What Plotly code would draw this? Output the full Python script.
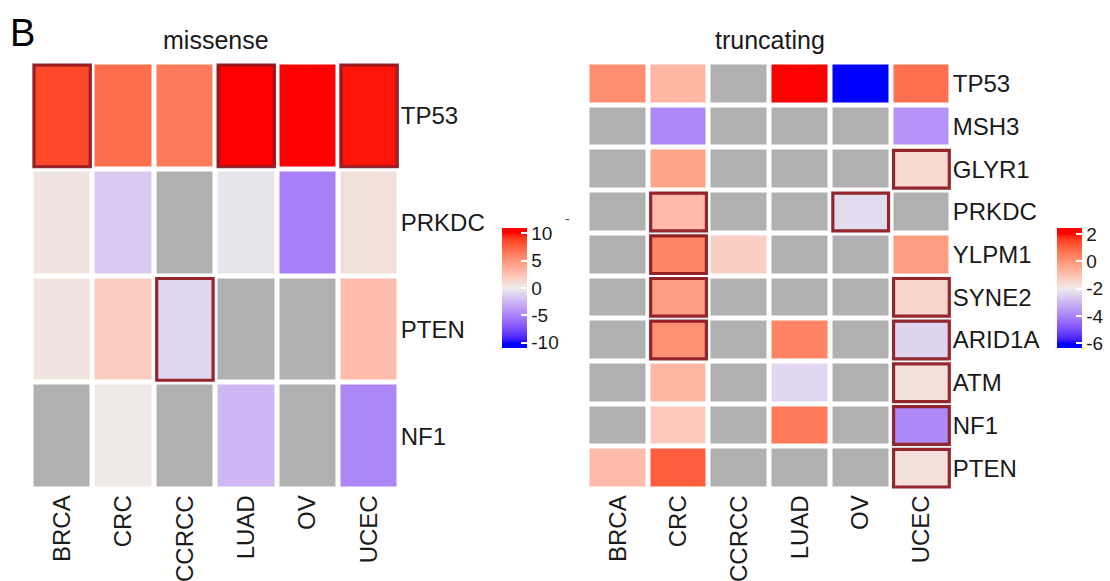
import math
import plotly.graph_objects as go

# ---------------- data ----------------
cancers = ["BRCA", "CRC", "CCRCC", "LUAD", "OV", "UCEC"]

missense_genes = ["TP53", "PRKDC", "PTEN", "NF1"]
missense_values = [
    [8.6, 7.0, 6.4, 10.8, 10.6, 9.8],
    [0.5, -1.6, None, -0.3, -5.2, 0.7],
    [0.5, 1.8, -1.0, None, None, 2.8],
    [None, 0.2, None, -2.5, None, -4.8],
]
missense_sig = [
    [1, 0, 0, 1, 0, 1],
    [0, 0, 0, 0, 0, 0],
    [0, 0, 1, 0, 0, 0],
    [0, 0, 0, 0, 0, 0],
]

trunc_genes = ["TP53", "MSH3", "GLYR1", "PRKDC", "YLPM1", "SYNE2", "ARID1A", "ATM", "NF1", "PTEN"]
trunc_values = [
    [0.15, -0.75, None, 2.3, -6.3, 0.75],
    [None, -3.9, None, None, None, -3.7],
    [None, -0.3, None, None, None, -1.55],
    [None, -0.85, None, None, -2.3, None],
    [None, 0.3, -1.3, None, None, -0.15],
    [None, -0.2, None, None, None, -1.45],
    [None, 0.1, None, 0.35, None, -2.45],
    [None, -0.75, None, -2.4, None, -1.7],
    [None, -1.2, None, 0.6, None, -3.9],
    [-0.85, 1.1, None, None, None, -1.7],
]
trunc_sig = [
    [0, 0, 0, 0, 0, 0],
    [0, 0, 0, 0, 0, 0],
    [0, 0, 0, 0, 0, 1],
    [0, 1, 0, 0, 1, 0],
    [0, 1, 0, 0, 0, 0],
    [0, 1, 0, 0, 0, 1],
    [0, 1, 0, 0, 0, 1],
    [0, 0, 0, 0, 0, 1],
    [0, 0, 0, 0, 0, 1],
    [0, 0, 0, 0, 0, 1],
]

missense_ticks = [10, 5, 0, -5, -10]
trunc_ticks = [2, 0, -2, -4, -6]

# ---------------- colour helpers (LAB interpolation) ----------------
def _lin(c):
    c = c / 255.0
    return c / 12.92 if c <= 0.04045 else ((c + 0.055) / 1.055) ** 2.4

def _delin(c):
    c = 12.92 * c if c <= 0.0031308 else 1.055 * c ** (1 / 2.4) - 0.055
    return max(0, min(255, round(c * 255)))

def rgb2lab(rgb):
    r, g, b = [_lin(c) for c in rgb]
    X = (0.4124 * r + 0.3576 * g + 0.1805 * b) / 0.95047
    Y = (0.2126 * r + 0.7152 * g + 0.0722 * b)
    Z = (0.0193 * r + 0.1192 * g + 0.9505 * b) / 1.08883
    f = lambda t: t ** (1 / 3) if t > 0.008856 else 7.787 * t + 16 / 116
    fx, fy, fz = f(X), f(Y), f(Z)
    return (116 * fy - 16, 500 * (fx - fy), 200 * (fy - fz))

def lab2rgb(lab):
    L, a, b = lab
    fy = (L + 16) / 116
    fx = fy + a / 500
    fz = fy - b / 200
    finv = lambda t: t ** 3 if t ** 3 > 0.008856 else (t - 16 / 116) / 7.787
    X, Y, Z = finv(fx) * 0.95047, finv(fy), finv(fz) * 1.08883
    r = 3.2406 * X - 1.5372 * Y - 0.4986 * Z
    g = -0.9689 * X + 1.8758 * Y + 0.0415 * Z
    bb = 0.0557 * X - 0.2040 * Y + 1.0570 * Z
    return tuple(_delin(max(0, c)) for c in (r, g, bb))

LOW, MID, HIGH = (0, 0, 255), (236, 236, 236), (255, 0, 0)

def color_at(v, breaks):
    cols = [LOW, MID, HIGH]
    if v <= breaks[0]:
        return cols[0]
    if v >= breaks[2]:
        return cols[2]
    i = 0 if v < breaks[1] else 1
    t = (v - breaks[i]) / (breaks[i + 1] - breaks[i])
    l1, l2 = rgb2lab(cols[i]), rgb2lab(cols[i + 1])
    return lab2rgb(tuple(l1[k] + (l2[k] - l1[k]) * t for k in range(3)))

def make_scale(breaks, cmin, cmax, n=81):
    out = []
    for k in range(n):
        v = cmin + (cmax - cmin) * k / (n - 1)
        c = color_at(v, breaks)
        out.append([k / (n - 1), "rgb(%d,%d,%d)" % c])
    return out

# ---------------- figure ----------------
W, H = 1110, 581
FONT = "Liberation Sans, Arial, Helvetica, sans-serif"
NA_GRAY = "rgb(176,176,176)"
BORDER = "rgba(140,22,28,0.92)"

fig = go.Figure()

panels = [
    dict(genes=missense_genes, vals=missense_values, sig=missense_sig, ax="", breaks=(-10, 0, 10),
         cmin=-11, cmax=11, ticks=missense_ticks, cbx=503 / W,
         xdom=[31.5 / W, 400.5 / W]),
    dict(genes=trunc_genes, vals=trunc_values, sig=trunc_sig, ax="2", breaks=(-6, -2, 2),
         cmin=-6.35, cmax=2.45, ticks=trunc_ticks, cbx=1059 / W,
         xdom=[588.5 / W, 953.5 / W]),
]
ydom = [1 - 489.5 / H, 1 - 62.5 / H]

shapes = []
for p in panels:
    xa = "x" + p["ax"]
    ya = "y" + p["ax"]
    na_z = [[1 if v is None else None for v in row] for row in p["vals"]]
    fig.add_trace(go.Heatmap(
        z=na_z, x=cancers, y=p["genes"], xaxis=xa, yaxis=ya,
        colorscale=[[0, NA_GRAY], [1, NA_GRAY]], showscale=False,
        xgap=5, ygap=5, hoverinfo="skip"))
    fig.add_trace(go.Heatmap(
        z=p["vals"], x=cancers, y=p["genes"], xaxis=xa, yaxis=ya,
        colorscale=make_scale(p["breaks"], p["cmin"], p["cmax"]),
        zmin=p["cmin"], zmax=p["cmax"], xgap=5, ygap=5,
        colorbar=dict(
            x=p["cbx"], xanchor="left", xpad=0, ypad=0,
            y=1 - 288 / H, yanchor="middle", len=120, lenmode="pixels",
            thickness=25, outlinewidth=0,
            tickvals=p["ticks"], ticktext=[str(t) for t in p["ticks"]],
            ticks="inside", ticklen=6, tickcolor="white", tickwidth=1.5,
            tickfont=dict(family=FONT, size=19, color="#1a1a1a"),
        )))
    # significance borders
    wpx = (p["xdom"][1] - p["xdom"][0]) * W / len(cancers)
    hpx = (ydom[1] - ydom[0]) * H / len(p["genes"])
    ix = 2.5 / wpx
    iy = 2.5 / hpx
    for r, row in enumerate(p["sig"]):
        for c, s in enumerate(row):
            if s:
                shapes.append(dict(type="rect", xref=xa, yref=ya,
                                   x0=c - 0.5 + ix, x1=c + 0.5 - ix,
                                   y0=r - 0.5 + iy, y1=r + 0.5 - iy,
                                   line=dict(color=BORDER, width=3.2)))

axis_common = dict(showgrid=False, zeroline=False, showline=False, ticks="",
                   tickfont=dict(family=FONT, size=24, color="#1a1a1a"))
fig.update_layout(
    width=W, height=H, margin=dict(l=0, r=0, t=0, b=0),
    paper_bgcolor="white", plot_bgcolor="white",
    font=dict(family=FONT, color="#1a1a1a"),
    xaxis=dict(domain=panels[0]["xdom"], anchor="y", tickangle=-90, **axis_common),
    yaxis=dict(domain=ydom, anchor="x", side="right", autorange="reversed", **axis_common),
    xaxis2=dict(domain=panels[1]["xdom"], anchor="y2", tickangle=-90, **axis_common),
    yaxis2=dict(domain=ydom, anchor="x2", side="right", autorange="reversed", **axis_common),
    shapes=shapes,
    annotations=[
        dict(text="B", x=8 / W, y=1 - 33 / H, xref="paper", yref="paper", xanchor="left",
             yanchor="middle", showarrow=False, font=dict(family=FONT, size=38, color="black")),
        dict(text="missense", x=216 / W, y=1 - 40 / H, xref="paper", yref="paper",
             xanchor="center", yanchor="middle", showarrow=False,
             font=dict(family=FONT, size=25, color="#1a1a1a")),
        dict(text="truncating", x=771 / W, y=1 - 40 / H, xref="paper", yref="paper",
             xanchor="center", yanchor="middle", showarrow=False,
             font=dict(family=FONT, size=25, color="#1a1a1a")),
        dict(text="-", x=569 / W, y=1 - 219 / H, xref="paper", yref="paper",
             xanchor="center", yanchor="middle", showarrow=False,
             font=dict(family=FONT, size=14, color="#555")),
    ],
)

fig.write_html("out.html")
